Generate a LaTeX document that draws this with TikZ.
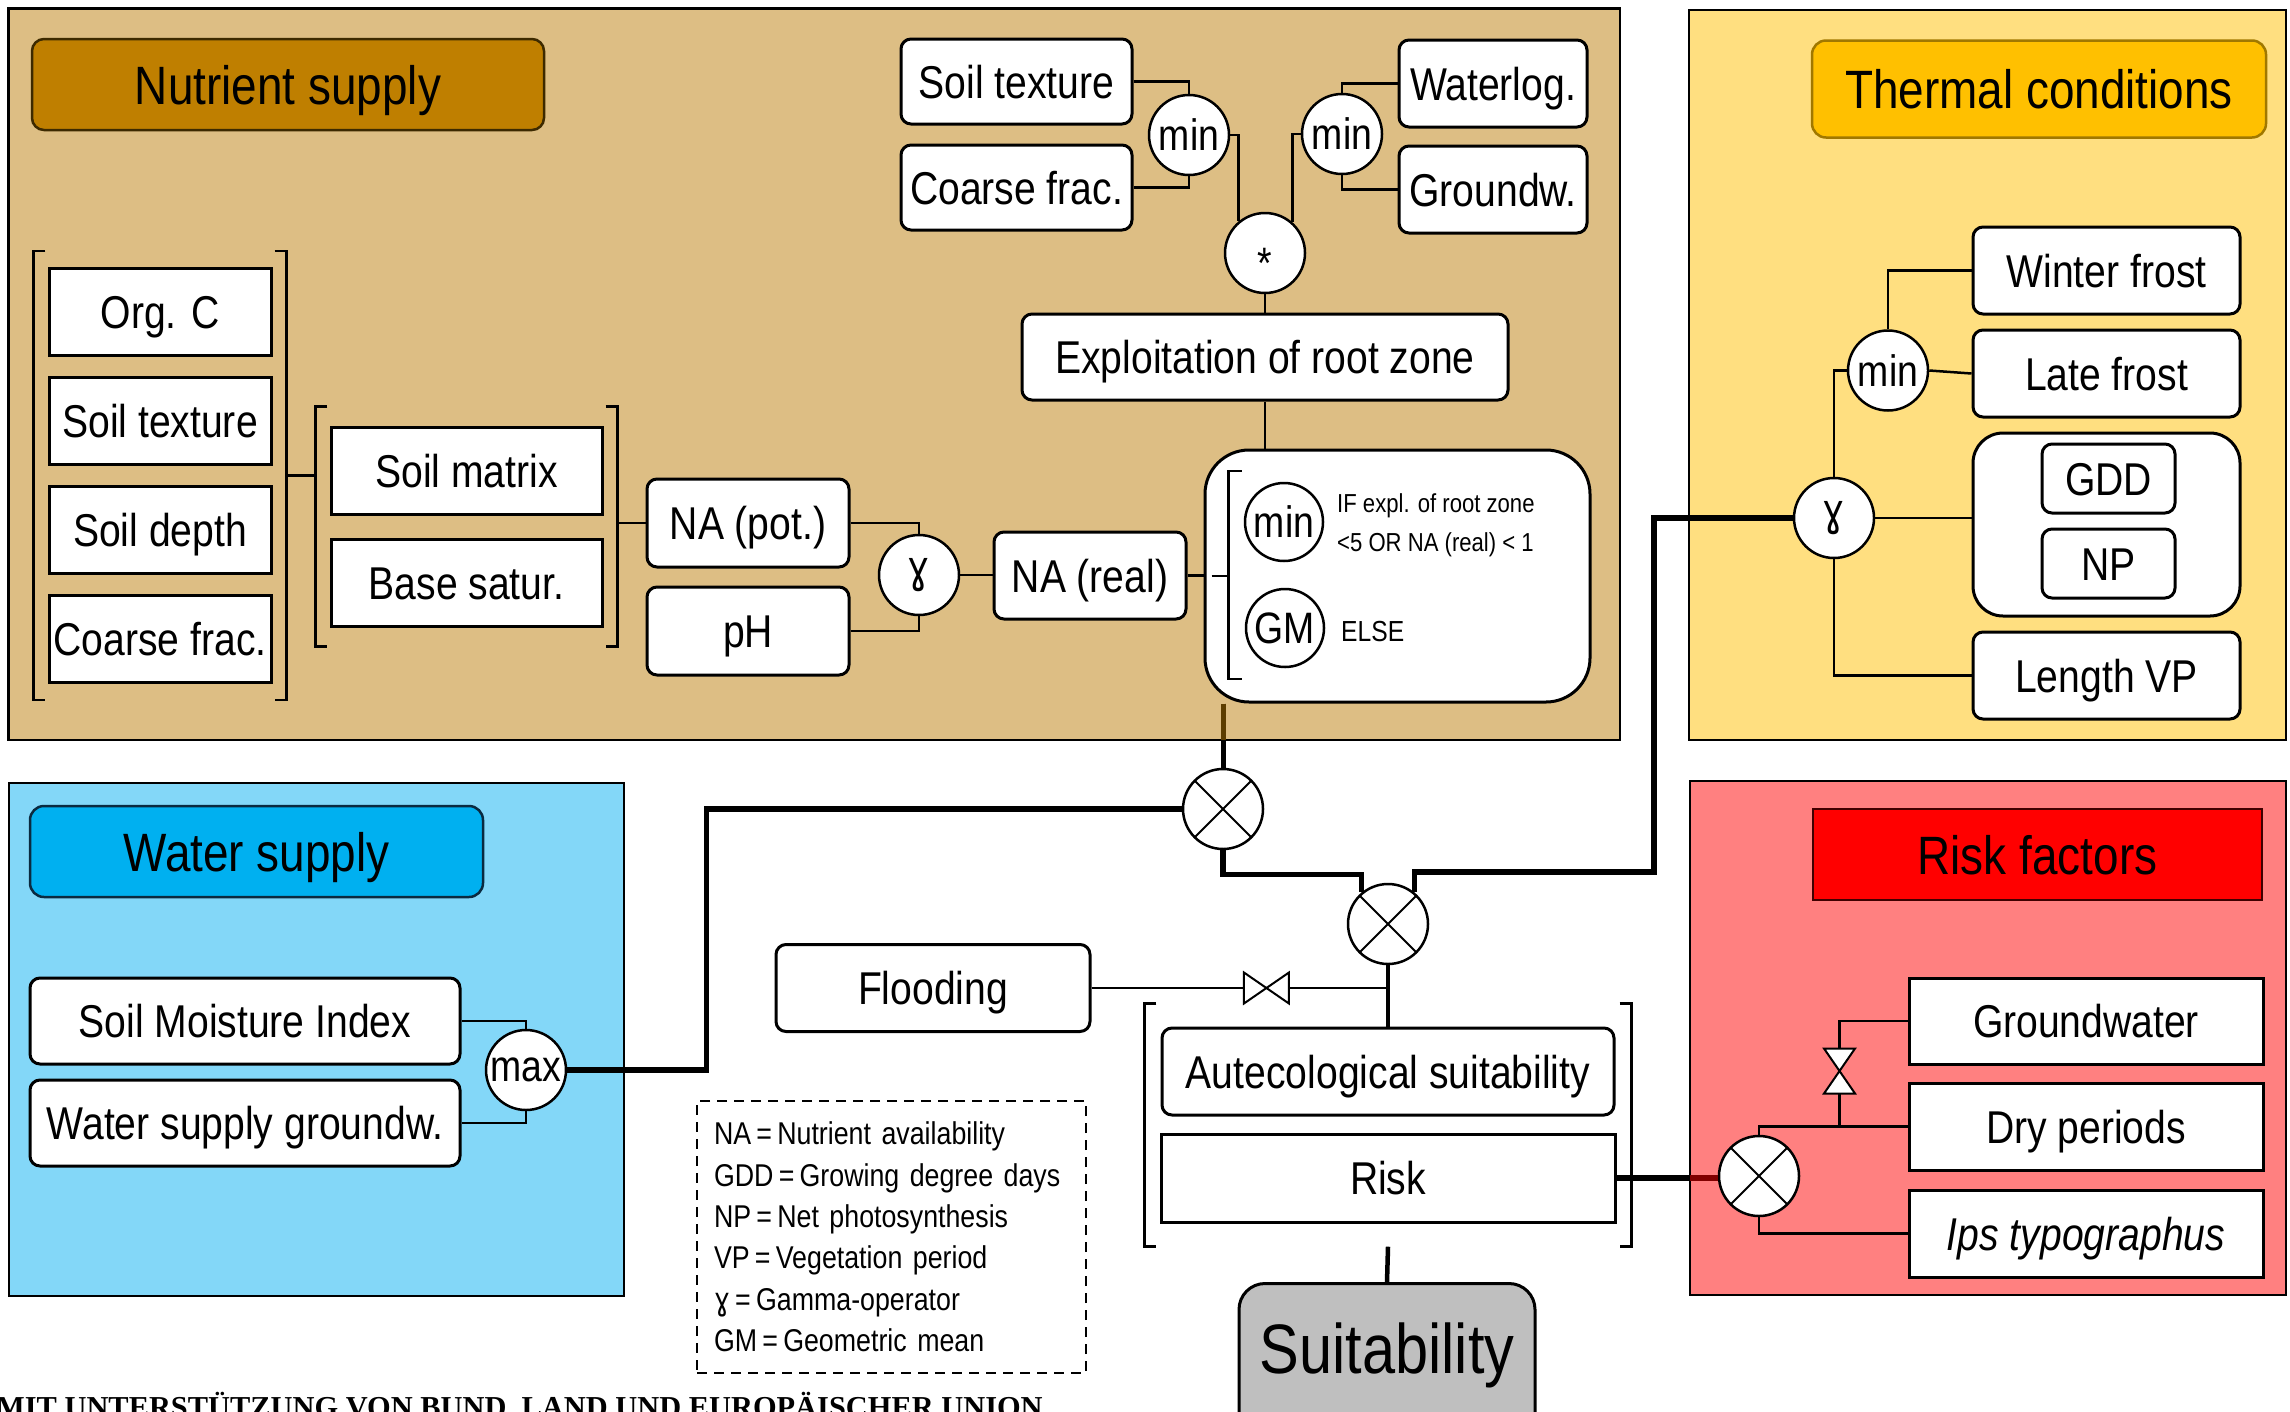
\documentclass[tikz,border=0pt]{standalone}
\usepackage{fontspec}
\setmainfont{Liberation Sans}[FakeStretch=0.85]
\newfontfamily\stampfont{Liberation Serif}
\newfontfamily\gamfont{DejaVu Sans}[FakeStretch=0.85]
\usetikzlibrary{positioning,fit,calc}

\definecolor{nutback}{HTML}{DDBE84}
\definecolor{nuthead}{HTML}{BF7F00}
\definecolor{nutedge}{HTML}{3D2A00}
\definecolor{thermback}{HTML}{FFDF80}
\definecolor{thermhead}{HTML}{FFC000}
\definecolor{thermedge}{HTML}{A07800}
\definecolor{waterback}{HTML}{83D7F8}
\definecolor{waterhead}{HTML}{00B0F0}
\definecolor{wateredge}{HTML}{0A2A40}
\definecolor{riskback}{HTML}{FF8080}
\definecolor{riskhead}{HTML}{FF0000}
\definecolor{riskedge}{HTML}{400000}
\definecolor{suitback}{HTML}{BFBFBF}
\definecolor{nutflow}{HTML}{5C3D00}
\definecolor{riskflow}{HTML}{800000}

\newcommand\headsize{\fontsize{54}{60}\selectfont}
\newcommand\boxsize{\fontsize{46}{52}\selectfont}
\newcommand\opsize{\fontsize{44}{48}\selectfont}
\newcommand\legsize{\fontsize{31.5}{41.4}\selectfont}
\newcommand\condsize{\fontsize{26}{39}\selectfont}
\newcommand\gam{{\gamfont ɣ}}

\begin{document}
\begin{tikzpicture}[x=1pt,y=-1pt,
    panel/.style={line width=2.5pt},
    header/.style={draw,line width=2.5pt,inner sep=0pt,font=\headsize,text height=39pt,text depth=0pt},
    sqbox/.style={draw,fill=white,line width=3pt,inner sep=0pt,font=\boxsize,text height=33pt,text depth=0pt},
    rbox/.style={sqbox,rounded corners=10pt},
    op/.style={circle,draw,fill=white,line width=2.5pt,minimum size=80pt,inner sep=0pt,font=\opsize},
    prod/.style={op,path picture={\draw[line width=2pt] (path picture bounding box.north west) -- (path picture bounding box.south east) (path picture bounding box.north east) -- (path picture bounding box.south west);}},
    link/.style={line width=2.5pt},
    flow/.style={line width=5.5pt},
    valve/.pic={\draw[line width=2pt,fill=white] (-22.5,-15.5) -- (22.5,15.5) -- (22.5,-15.5) -- (-22.5,15.5) -- cycle;}]

    \useasboundingbox (0,0) rectangle (2290,1411);
    \clip (0,0) rectangle (2290,1411);

    % panels
    \draw[panel,fill=nutback] (8.5,8.5) rectangle (1620,740);
    \draw[panel,fill=thermback] (1689,10) rectangle (2286,740);
    \draw[panel,fill=waterback] (9,783) rectangle (624,1296);
    \draw[panel,fill=riskback] (1690,781) rectangle (2286,1295);
    \coordinate (nutse) at (1620,740);
    \coordinate (riskw) at (1690,781);

    % nutrient supply
    \node[header,fill=nuthead,draw=nutedge,rounded corners=12pt,minimum width=512pt,minimum height=91pt] (nuthd) at (288,84.5) {Nutrient supply};

    \node[sqbox,minimum width=222pt,minimum height=87pt] (orgc) at (160,312) {Org. C};
    \foreach \curr/\prev/\txt in {soiltex/orgc/Soil texture,soildepth/soiltex/Soil depth,coarse/soildepth/Coarse frac.}{
        \node[sqbox,minimum width=222pt,minimum height=87pt] (\curr) [below=19pt of \prev] {\txt};
    }
    \node[fit=(orgc)(coarse),inner xsep=14pt,inner ysep=16pt] (soilgrp) {};

    \node[sqbox,minimum width=271pt,minimum height=87pt] (soilmat) at (466.5,470.5) {Soil matrix};
    \node[sqbox,minimum width=271pt,minimum height=87pt] (basesat) [below=22pt of soilmat] {Base satur.};
    \node[fit=(soilmat)(basesat),inner xsep=14pt,inner ysep=19pt] (matgrp) {};

    \node[rbox,minimum width=202pt,minimum height=88pt] (napot) at (748,523) {NA (pot.)};
    \node[rbox,minimum width=202pt,minimum height=88pt] (ph) [below=17pt of napot] {pH};
    \node[op] (gam1) at (919,575) {\gam};
    \node[rbox,minimum width=192pt,minimum height=87pt] (nareal) at (1090,575.5) {NA (real)};

    \node[rbox,minimum width=231pt,minimum height=85pt] (soiltexb) at (1016.5,81.5) {Soil texture};
    \node[rbox,minimum width=231pt,minimum height=85pt] (coarseb) [below=18pt of soiltexb] {Coarse frac.};
    \node[op] (min1) at (1189,135) {min};
    \node[rbox,minimum width=188pt,minimum height=87pt] (waterlog) at (1493,83.5) {Waterlog.};
    \node[rbox,minimum width=188pt,minimum height=87pt] (groundwa) [below=16pt of waterlog] {Groundw.};
    \node[op] (min2) at (1342,134) {min};
    \node[op] (star) at (1265,253) {\smash{\raisebox{-25pt}{*}}};
    \node[rbox,minimum width=486pt,minimum height=86pt] (exploit) at (1265,357) {Exploitation of root zone};

    \node[sqbox,rounded corners=44pt,minimum width=385pt,minimum height=252pt] (cond) at (1397.5,576) {};
    \node[op,minimum size=78pt] (minc) at (1284,522) {min};
    \node[op,minimum size=78pt] (gmc) at (1285,628) {GM};
    \node[anchor=west,align=left,font=\condsize,inner sep=0pt] (iftxt) at (1337,525) {IF expl. of root zone\\<5 OR NA (real) < 1};
    \node[anchor=west,font=\fontsize{29}{34}\selectfont,inner sep=0pt] (elsetxt) at (1341,632) {ELSE};
    \draw[link] ($(cond.west)+(38,-105)$) -- ++(-13,0) -- ++(0,208) -- ++(13,0);
    \draw[link] ($(cond.west)+(8,0)$) -- ++(17,0);

    \draw[link] (soilgrp.east) -- (soilgrp.east -| matgrp.west);
    \draw[link] (napot.west -| matgrp.east) -- (napot.west);
    \draw[link] (napot.east) -| (gam1.north);
    \draw[link] (ph.east) -| (gam1.south);
    \draw[link] (gam1.east) -- (gam1.east -| nareal.west);
    \draw[link] (nareal.east) -- (nareal.east -| cond.west);
    \draw[link] (soiltexb.east) -| (min1.north);
    \draw[link] (coarseb.east) -| (min1.south);
    \draw[link] (waterlog.west) -| (min2.north);
    \draw[link] (groundwa.west) -| (min2.south);
    \draw[link] (min1.east) -| (star.130);
    \draw[link] (min2.west) -| (star.48);
    \draw[link] (star.south) -- (exploit.north);
    \draw[link] (exploit.south) -- (exploit.south |- cond.north);

    % thermal conditions
    \node[header,fill=thermhead,draw=thermedge,rounded corners=14pt,minimum width=454pt,minimum height=97pt] (thermhd) at (2039,89) {Thermal conditions};
    \node[rbox,minimum width=267pt,minimum height=87pt] (winter) at (2106.5,270.5) {Winter frost};
    \node[rbox,minimum width=267pt,minimum height=87pt] (late) [below=13pt of winter] {Late frost};
    \node[sqbox,rounded corners=30pt,minimum width=267pt,minimum height=183pt] (gddnp) [below=13pt of late] {};
    \node[rbox,minimum width=133pt,minimum height=69pt] (gdd) at (2108.5,478.5) {GDD};
    \node[rbox,minimum width=133pt,minimum height=69pt] (np) [below=13pt of gdd] {NP};
    \node[rbox,minimum width=267pt,minimum height=87pt] (lengthvp) [below=13pt of gddnp] {Length VP};
    \node[op] (min3) at (1888,370.5) {min};
    \node[op] (gam2) at (1834,518) {\gam};

    \draw[link] (winter.west) -| (min3.north);
    \draw[link] (late.west) -- (min3.east);
    \draw[link] (min3.west) -| (gam2.north);
    \draw[link] (gam2.east) -- (gam2.east -| gddnp.west);
    \draw[link] (gam2.south) |- (lengthvp.west);

    % water supply
    \node[header,fill=waterhead,draw=wateredge,rounded corners=14pt,minimum width=453pt,minimum height=91pt] (waterhd) at (256.5,851.5) {Water supply};
    \node[rbox,minimum width=430pt,minimum height=86pt] (smi) at (245,1021) {Soil Moisture Index};
    \node[rbox,minimum width=430pt,minimum height=86pt] (wsg) [below=13pt of smi] {Water supply groundw.};
    \node[op] (max) at (526,1070) {max};

    \draw[link] (smi.east) -| (max.north);
    \draw[link] (wsg.east) -| (max.south);

    % risk factors
    \node[header,fill=riskhead,draw=riskedge,minimum width=449pt,minimum height=91pt] (riskhd) at (2037.5,854.5) {Risk factors};
    \node[sqbox,minimum width=354pt,minimum height=86pt] (groundwb) at (2086,1021) {Groundwater};
    \node[sqbox,minimum width=354pt,minimum height=87pt] (dry) [below=16pt of groundwb] {Dry periods};
    \node[sqbox,minimum width=354pt,minimum height=87pt] (ips) [below=17pt of dry] {\itshape Ips typographus};
    \node[prod] (prod3) at (1759,1176) {};

    \draw[link] (dry.west) -| (prod3.north);
    \draw[link] (ips.west) -| (prod3.south);
    \draw[link] (groundwb.west) -- ++(-68,0) |- (dry.west);
    \pic[rotate=90] at ($(groundwb.west)+(-68,50)$) {valve};

    % combination
    \node[prod] (prod1) at (1223,809) {};
    \node[prod] (prod2) at (1388,924) {};
    \node[rbox,minimum width=314pt,minimum height=87pt] (flood) at (933,988) {Flooding};
    \node[rbox,minimum width=452pt,minimum height=87pt] (autec) at (1388,1071.5) {Autecological suitability};
    \node[sqbox,minimum width=454pt,minimum height=88pt] (risk) [below=16pt of autec] {Risk};
    \node[fit=(autec)(risk),inner xsep=15pt,inner ysep=23pt] (suitgrp) {};
    \node[sqbox,fill=suitback,rounded corners=26pt,minimum width=296pt,minimum height=160pt,anchor=north,font=\fontsize{70}{80}\selectfont,text height=50pt,text depth=30pt] (suit) at (1387,1282) {Suitability};

    \foreach \grp in {soilgrp,matgrp,suitgrp}{
        \draw[link] ([xshift=12pt]\grp.north west) -- (\grp.north west) -- (\grp.south west) -- ([xshift=12pt]\grp.south west);
        \draw[link] ([xshift=-12pt]\grp.north east) -- (\grp.north east) -- (\grp.south east) -- ([xshift=-12pt]\grp.south east);
    }

    \draw[flow] (max.east) -- ++(139,0) |- (prod1.west);
    \draw[line width=5pt] (prod1.north |- cond.south) -- (prod1.north);
    \draw[line width=5pt,nutflow] (prod1.north |- cond.south) -- (prod1.north |- nutse);
    \draw[flow] (prod1.south) -- ++(0,24) -| (prod2.130);
    \draw[flow] (gam2.west) -- ++(-139,0) -- ++(0,354) -| (prod2.50);
    \draw[line width=4.5pt] (prod2.south) -- (autec.north);
    \draw[link] (flood.east) -- (flood.east -| autec.north);
    \pic at ($(flood.east)!0.59!(flood.east -| autec.north)$) {valve};
    \draw[flow] (risk.east) -- (risk.east -| prod3.west);
    \draw[flow,riskflow] (risk.east -| riskw) -- (risk.east -| prod3.west);
    \draw[line width=4.5pt] (suitgrp.south) -- (suit.north);

    % legend
    \node[draw,line width=2.5pt,dash pattern=on 10pt off 7pt,text width=355pt,inner xsep=17pt,inner ysep=0pt,minimum height=272pt,align=left,font=\legsize] (legend) at (891.5,1237) {NA\,=\,Nutrient availability\\GDD\,=\,Growing degree days\\NP\,=\,Net photosynthesis\\VP\,=\,Vegetation period\\\gam\,=\,Gamma-operator\\GM\,=\,Geometric mean};

    \node[font=\stampfont\bfseries\fontsize{30.4}{34}\selectfont,anchor=base west,inner sep=0pt] (stamp) at (-4,1417) {MIT UNTERSTÜTZUNG VON BUND, LAND UND EUROPÄISCHER UNION};

\end{tikzpicture}
\end{document}
